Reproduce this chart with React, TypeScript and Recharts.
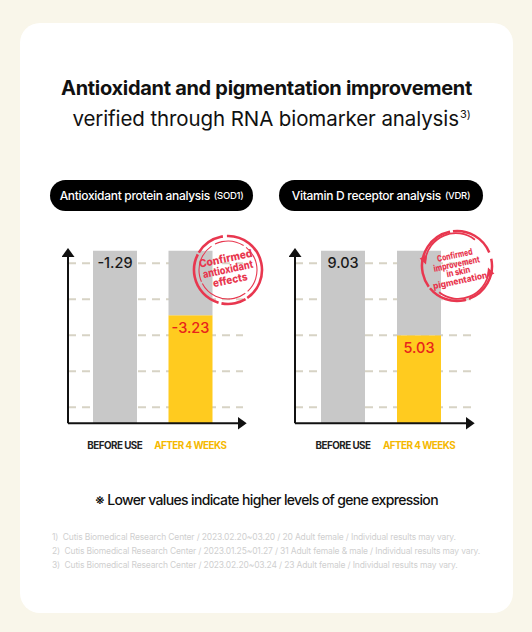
import React from "react";
import { BarChart, Bar, XAxis, YAxis, CartesianGrid, Cell, LabelList } from "recharts";

// shared x categories
const categories = ["BEFORE USE", "AFTER 4 WEEKS"];

// printed values
const sodValues = [-1.29, -3.23];
const vdrValues = [9.03, 5.03];

// bar heights (same scale as the dashed guides)
const barTop = 172.6;
const sodLevels = [172.6, 108];
const vdrLevels = [172.6, 88];
const guideTicks = [16, 52, 88, 124, 160];

const footnotes = [
  "1)  Cutis Biomedical Research Center / 2023.02.20~03.20 / 20 Adult female / Individual results may vary.",
  "2)  Cutis Biomedical Research Center / 2023.01.25~01.27 / 31 Adult female & male / Individual results may vary.",
  "3)  Cutis Biomedical Research Center / 2023.02.20~03.24 / 23 Adult female / Individual results may vary.",
];

const GRAY = "#c8c8c8";
const YELLOW = "#ffcb1f";
const RED = "#e8231b";
const STAMP = "#e8374f";
const FONT = "Inter, 'Noto Sans', sans-serif";

const buildRows = (values: number[], levels: number[]) =>
  categories.map((name, i) => ({
    name,
    value: values[i],
    level: levels[i],
    rest: barTop - levels[i],
  }));

const XTick = (props: any) => {
  const { x, y, payload } = props;
  const first = payload.value === categories[0];
  return (
    <text
      x={x}
      y={y + 26}
      textAnchor="middle"
      fontFamily={FONT}
      fontSize={9.8}
      fontWeight={700}
      letterSpacing={-0.5}
      fill={first ? "#222" : "#f5b800"}
    >
      {payload.value}
    </text>
  );
};

const NoTick = () => <g />;

const ValueLabel = (props: any) => {
  const { x, y, width, value, index } = props;
  return (
    <text
      x={x + width / 2}
      y={y + 17.5}
      textAnchor="middle"
      fontFamily={FONT}
      fontSize={14.5}
      fontWeight={500}
      fill={index === 0 ? "#1a1a1a" : RED}
    >
      {Number(value).toFixed(2)}
    </text>
  );
};

function Panel({ id, values, levels, padL, padR, width }: any) {
  const rows = buildRows(values, levels);
  return (
    <BarChart
      width={width}
      height={220}
      data={rows}
      margin={{ top: 10.7, right: 17, bottom: 6.7, left: 17 }}
    >
      <defs>
        <marker id={id + "-ax"} viewBox="0 0 9 13" markerWidth={9} markerHeight={13} refX={5.3} refY={6.5} orient="auto" markerUnits="userSpaceOnUse">
          <path d="M0,0 L9,6.5 L0,13 z" fill="#111" />
        </marker>
        <marker id={id + "-ay"} viewBox="0 0 9 13" markerWidth={9} markerHeight={13} refX={6.3} refY={6.5} orient="auto-start-reverse" markerUnits="userSpaceOnUse">
          <path d="M0,0 L9,6.5 L0,13 z" fill="#111" />
        </marker>
      </defs>
      <CartesianGrid
        vertical={false}
        syncWithTicks
        stroke="#d7d3c5"
        strokeWidth={2}
        strokeDasharray="8 6"
      />
      <XAxis
        dataKey="name"
        height={30}
        interval={0}
        padding={{ left: padL, right: padR }}
        tickLine={false}
        tickSize={0}
        tickMargin={0}
        tick={<XTick />}
        axisLine={{ stroke: "#111", strokeWidth: 2, markerEnd: `url(#${id}-ax)` }}
      />
      <YAxis
        width={1}
        type="number"
        domain={[0, barTop]}
        ticks={guideTicks}
        interval={0}
        tick={<NoTick />}
        tickLine={false}
        axisLine={{ stroke: "#111", strokeWidth: 2, markerStart: `url(#${id}-ay)` }}
      />
      <Bar dataKey="level" stackId="s" barSize={44} isAnimationActive={false}>
        {rows.map((r, i) => (
          <Cell key={r.name} fill={i === 0 ? GRAY : YELLOW} />
        ))}
        <LabelList dataKey="value" content={<ValueLabel />} />
      </Bar>
      <Bar dataKey="rest" stackId="s" barSize={44} fill={GRAY} isAnimationActive={false} />
    </BarChart>
  );
}

function Pill({ left, width, title, code }: any) {
  return (
    <div
      style={{
        position: "absolute",
        left,
        top: 180,
        width,
        height: 31,
        borderRadius: 16,
        background: "#000",
        color: "#fff",
        display: "flex",
        alignItems: "center",
        justifyContent: "center",
        fontFamily: FONT,
        fontWeight: 500,
        fontSize: 12,
        letterSpacing: -0.3,
        whiteSpace: "nowrap",
      }}
    >
      {title}
      <span style={{ fontSize: 9.5, marginLeft: 4 }}>{code}</span>
    </div>
  );
}

function Stamps() {
  return (
    <svg width={532} height={632} style={{ position: "absolute", left: 0, top: 0, pointerEvents: "none" }}>
      <g transform="rotate(-12 228 270)" fill={STAMP} stroke="none" fontFamily={FONT} fontWeight={800} textAnchor="middle">
        <circle cx={228} cy={270} r={34} fill="none" stroke={STAMP} strokeWidth={2.6} strokeDasharray="40 2 25 3 60 2 30 4 50" />
        <circle cx={228} cy={270} r={29} fill="none" stroke={STAMP} strokeWidth={1.1} strokeDasharray="30 3 50 2 40 4" />
        <text x={228} y={262} fontSize={11} textLength={54} lengthAdjust="spacingAndGlyphs">Confirmed</text>
        <text x={228} y={273} fontSize={11} textLength={51} lengthAdjust="spacingAndGlyphs">antioxidant</text>
        <text x={228} y={284} fontSize={11} textLength={35} lengthAdjust="spacingAndGlyphs">effects</text>
      </g>
      <g transform="rotate(-12 457 266)" fill={STAMP} stroke="none" fontFamily={FONT} fontWeight={800} textAnchor="middle">
        <circle cx={457} cy={266} r={35} fill="none" stroke={STAMP} strokeWidth={2.5} strokeDasharray="50 3 40 2 70 3 45" />
        <path d="M 427 254 A 31 31 0 0 1 480 244" fill="none" stroke={STAMP} strokeWidth={1.8} />
        <path d="M 487 278 A 31 31 0 0 1 434 288" fill="none" stroke={STAMP} strokeWidth={1.8} />
        <path d="M 422 251 L 430 249 L 427 258 z" />
        <path d="M 492 281 L 484 283 L 487 274 z" />
        <text x={457} y={258} fontSize={9} textLength={36} lengthAdjust="spacingAndGlyphs">Confirmed</text>
        <text x={457} y={267} fontSize={9} textLength={47} lengthAdjust="spacingAndGlyphs">improvement</text>
        <text x={457} y={275} fontSize={9} textLength={24} lengthAdjust="spacingAndGlyphs">in skin</text>
        <text x={457} y={284} fontSize={9} textLength={55} lengthAdjust="spacingAndGlyphs">pigmentation</text>
      </g>
    </svg>
  );
}

export default function App() {
  return (
    <div style={{ position: "absolute", left: 0, top: 0, width: 532, height: 632, background: "#f9f6ea", fontFamily: FONT }}>
      <div style={{ position: "absolute", left: 20, top: 23, width: 493, height: 590, background: "#fff", borderRadius: 20 }} />
      <div
        style={{
          position: "absolute",
          left: 20,
          width: 493,
          top: 75.5,
          textAlign: "center",
          fontSize: 20,
          lineHeight: "24px",
          fontWeight: 700,
          color: "#111",
          letterSpacing: -0.3,
        }}
      >
        Antioxidant and pigmentation improvement
      </div>
      <div
        style={{
          position: "absolute",
          left: 30,
          width: 483,
          top: 107,
          textAlign: "center",
          fontSize: 20.5,
          lineHeight: "24px",
          fontWeight: 400,
          color: "#111",
          letterSpacing: -0.1,
        }}
      >
        verified through RNA biomarker analysis
        <span style={{ fontSize: 11, position: "relative", top: -8, marginLeft: 1 }}>3)</span>
      </div>

      <Pill left={50} width={203} title="Antioxidant protein analysis" code="(SOD1)" />
      <Pill left={279} width={204} title="Vitamin D receptor analysis" code="(VDR)" />

      <div style={{ position: "absolute", left: 50, top: 240 }}>
        <Panel id="sod" values={sodValues} levels={sodLevels} padL={9} padR={15} width={210} />
      </div>
      <div style={{ position: "absolute", left: 277, top: 240 }}>
        <Panel id="vdr" values={vdrValues} levels={vdrLevels} padL={10} padR={14} width={211} />
      </div>

      <Stamps />

      <div
        style={{
          position: "absolute",
          left: 20,
          width: 493,
          top: 490.5,
          textAlign: "center",
          fontSize: 14,
          lineHeight: "18px",
          fontWeight: 500,
          color: "#111",
          letterSpacing: -0.65,
        }}
      >
        ※ Lower values indicate higher levels of gene expression
      </div>

      <div style={{ position: "absolute", left: 52, top: 530, fontSize: 8.5, lineHeight: "14px", color: "#cfcfcf", letterSpacing: -0.15, whiteSpace: "pre" }}>
        {footnotes.map((f) => (
          <div key={f}>{f}</div>
        ))}
      </div>
    </div>
  );
}
